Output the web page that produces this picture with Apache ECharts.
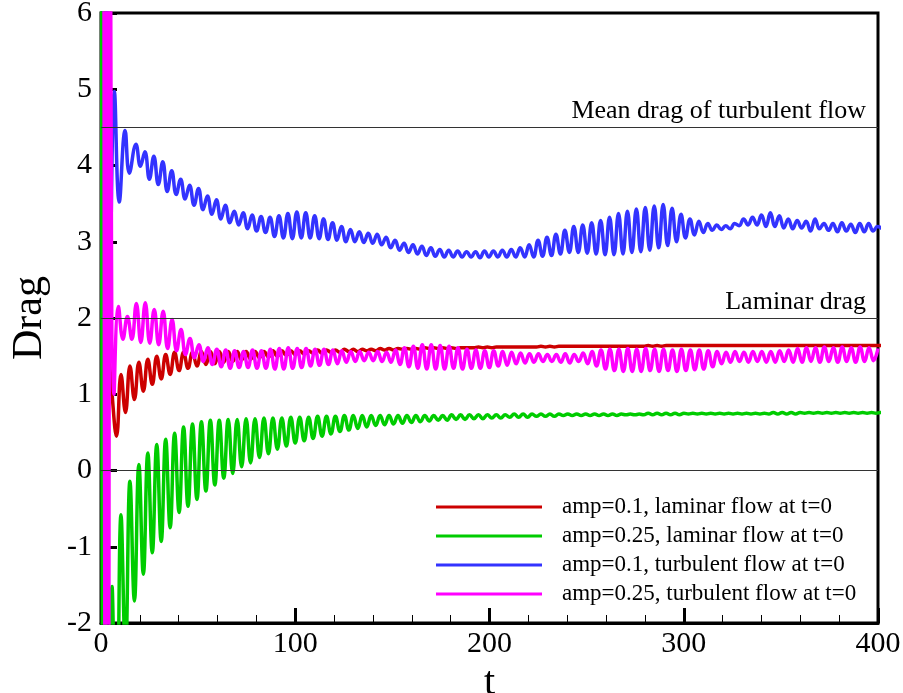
<!DOCTYPE html>
<html lang="en">
<head>
    <meta charset="UTF-8">
    <script type="text/javascript" src="https://cdn.jsdelivr.net/npm/echarts@6.0.0/dist/echarts.min.js"></script>
    <title>Drag</title>
    <style>
        body { margin: 0; background: #fff; }
        #chart { width: 903px; height: 693px; }
    </style>
</head>
<body>
    <div id="chart"></div>
</body>
</html>
<script>
    // half period of the forcing, samples are taken at peaks and troughs
    var halfPeriod = 2.3;

    var legendNames = ['amp=0.1, laminar flow at t=0', 'amp=0.25, laminar flow at t=0',
        'amp=0.1, turbulent flow at t=0', 'amp=0.25, turbulent flow at t=0'];

    // start-up transients [t, drag]
    var redHead = [[1.2, 3.5], [3.4, 1.8]];
    var greenHead = [[0.3, 8], [0.9, -8], [1.5, 8], [3.4, -8]];
    var blueHead = [[2.6, 8], [4.6, 2.45], [6.9, 4.97], [9.4, 3.52], [12.4, 4.46], [14.6, 3.9], [18.0, 4.28]];
    var magentaHead = [[1.5, 8], [2.3, -8], [3.1, 8], [3.9, -8], [4.7, 8]];

    // time of the first peak/trough sample after the transient
    var redStart = 5.7, greenStart = 5.7, blueStart = 20.3, magentaStart = 6.7;

    var redDrag = [
        1.0, 0.45, 1.26, 0.76, 1.37, 0.93, 1.42, 1.04, 1.46, 1.13,
        1.5, 1.2, 1.52, 1.26, 1.55, 1.31, 1.55, 1.34, 1.55, 1.37,
        1.56, 1.39, 1.56, 1.4, 1.56, 1.42, 1.56, 1.43, 1.56, 1.45,
        1.56, 1.46, 1.56, 1.48, 1.56, 1.49, 1.57, 1.5, 1.57, 1.51,
        1.57, 1.52, 1.57, 1.53, 1.57, 1.54, 1.58, 1.54, 1.58, 1.55,
        1.58, 1.55, 1.59, 1.56, 1.59, 1.56, 1.59, 1.57, 1.59, 1.57,
        1.6, 1.58, 1.6, 1.58, 1.6, 1.59, 1.6, 1.59, 1.6, 1.59,
        1.61, 1.6, 1.61, 1.6, 1.61, 1.6, 1.61, 1.6, 1.61, 1.61,
        1.61, 1.61, 1.62, 1.61, 1.62, 1.61, 1.62, 1.62, 1.62, 1.62,
        1.62, 1.62, 1.62, 1.62, 1.62, 1.62, 1.63, 1.62, 1.63, 1.62,
        1.63, 1.63, 1.63, 1.63, 1.63, 1.63, 1.63, 1.63, 1.63, 1.63,
        1.63, 1.63, 1.63, 1.63, 1.63, 1.63, 1.63, 1.63, 1.63, 1.63,
        1.64, 1.63, 1.64, 1.63, 1.64, 1.64, 1.64, 1.64, 1.64, 1.64,
        1.64, 1.64, 1.64, 1.64, 1.64, 1.64, 1.64, 1.64, 1.64, 1.64,
        1.64, 1.64, 1.64, 1.64, 1.64, 1.64, 1.64, 1.64, 1.64, 1.64,
        1.64, 1.64, 1.64, 1.64, 1.64, 1.64, 1.64, 1.64, 1.64, 1.64,
        1.64, 1.64, 1.64, 1.64, 1.64, 1.64, 1.64, 1.64, 1.64, 1.64,
        1.64, 1.64, 1.64, 1.64
    ];

    var greenDrag = [
        -1.52, -4, -0.58, -2.4, -0.14, -1.71, 0.08, -1.36, 0.23, -1.08,
        0.34, -0.93, 0.41, -0.75, 0.49, -0.55, 0.57, -0.47, 0.61, -0.38,
        0.64, -0.27, 0.66, -0.19, 0.66, -0.1, 0.67, -0.04, 0.67, 0.05,
        0.68, 0.1, 0.68, 0.17, 0.69, 0.22, 0.69, 0.28, 0.69, 0.32,
        0.7, 0.36, 0.7, 0.39, 0.7, 0.42, 0.71, 0.45, 0.71, 0.48,
        0.71, 0.51, 0.72, 0.53, 0.72, 0.55, 0.72, 0.57, 0.72, 0.59,
        0.72, 0.6, 0.72, 0.61, 0.72, 0.62, 0.72, 0.63, 0.72, 0.64,
        0.72, 0.65, 0.72, 0.66, 0.72, 0.66, 0.73, 0.67, 0.73, 0.67,
        0.73, 0.68, 0.73, 0.68, 0.73, 0.69, 0.73, 0.69, 0.73, 0.7,
        0.74, 0.7, 0.74, 0.7, 0.74, 0.71, 0.74, 0.71, 0.74, 0.71,
        0.74, 0.72, 0.74, 0.72, 0.74, 0.72, 0.74, 0.72, 0.74, 0.72,
        0.74, 0.72, 0.74, 0.72, 0.74, 0.73, 0.74, 0.73, 0.74, 0.73,
        0.75, 0.73, 0.75, 0.73, 0.75, 0.73, 0.75, 0.73, 0.75, 0.74,
        0.75, 0.74, 0.75, 0.74, 0.75, 0.74, 0.75, 0.74, 0.75, 0.74,
        0.75, 0.74, 0.75, 0.74, 0.75, 0.74, 0.75, 0.74, 0.76, 0.74,
        0.76, 0.74, 0.76, 0.74, 0.76, 0.75, 0.76, 0.75, 0.76, 0.75,
        0.76, 0.75, 0.76, 0.75, 0.76, 0.75, 0.76, 0.75, 0.76, 0.75,
        0.76, 0.75, 0.76, 0.75
    ];

    var blueDrag = [
        3.99, 4.18, 3.82, 4.12, 3.75, 4.05, 3.66, 3.93, 3.62, 3.82,
        3.56, 3.74, 3.48, 3.7, 3.42, 3.6, 3.36, 3.55, 3.3, 3.48,
        3.25, 3.4, 3.22, 3.38, 3.17, 3.35, 3.14, 3.33, 3.12, 3.32,
        3.07, 3.34, 3.05, 3.37, 3.04, 3.39, 3.05, 3.38, 3.05, 3.34,
        3.04, 3.3, 3.03, 3.25, 3.02, 3.2, 3.0, 3.16, 3.0, 3.13,
        2.99, 3.11, 2.98, 3.1, 2.96, 3.06, 2.92, 3.02, 2.89, 2.98,
        2.86, 2.96, 2.84, 2.94, 2.82, 2.92, 2.81, 2.9, 2.8, 2.89,
        2.8, 2.88, 2.8, 2.87, 2.8, 2.87, 2.79, 2.88, 2.8, 2.88,
        2.8, 2.89, 2.8, 2.9, 2.8, 2.92, 2.8, 2.96, 2.8, 3.02,
        2.81, 3.06, 2.82, 3.1, 2.84, 3.15, 2.86, 3.2, 2.86, 3.22,
        2.85, 3.25, 2.84, 3.28, 2.83, 3.32, 2.83, 3.37, 2.84, 3.4,
        2.86, 3.43, 2.87, 3.45, 2.89, 3.47, 2.92, 3.49, 2.95, 3.44,
        3.0, 3.36, 3.05, 3.3, 3.09, 3.27, 3.12, 3.24, 3.15, 3.22,
        3.16, 3.21, 3.17, 3.24, 3.21, 3.3, 3.22, 3.32, 3.22, 3.35,
        3.2, 3.38, 3.2, 3.34, 3.18, 3.3, 3.17, 3.28, 3.18, 3.27,
        3.14, 3.3, 3.17, 3.24, 3.15, 3.24, 3.13, 3.25, 3.14, 3.23,
        3.12, 3.24, 3.13, 3.24, 3.14, 3.2, 3.17
    ];

    var magentaDrag = [
        1.0, 2.15, 1.72, 2.02, 1.72, 2.19, 1.68, 2.2, 1.67, 2.11,
        1.65, 2.09, 1.6, 1.98, 1.57, 1.85, 1.52, 1.73, 1.48, 1.65,
        1.43, 1.61, 1.39, 1.59, 1.36, 1.58, 1.34, 1.57, 1.35, 1.56,
        1.35, 1.58, 1.34, 1.57, 1.34, 1.59, 1.33, 1.6, 1.33, 1.61,
        1.34, 1.6, 1.35, 1.6, 1.37, 1.59, 1.38, 1.59, 1.39, 1.58,
        1.4, 1.57, 1.42, 1.56, 1.43, 1.56, 1.44, 1.55, 1.44, 1.56,
        1.43, 1.55, 1.42, 1.58, 1.39, 1.61, 1.36, 1.63, 1.34, 1.65,
        1.33, 1.65, 1.33, 1.64, 1.33, 1.63, 1.34, 1.61, 1.33, 1.59,
        1.34, 1.58, 1.34, 1.57, 1.35, 1.57, 1.37, 1.56, 1.38, 1.55,
        1.4, 1.54, 1.41, 1.53, 1.42, 1.53, 1.43, 1.52, 1.43, 1.52,
        1.42, 1.53, 1.41, 1.52, 1.43, 1.54, 1.4, 1.56, 1.37, 1.58,
        1.33, 1.59, 1.31, 1.59, 1.3, 1.6, 1.3, 1.59, 1.3, 1.6,
        1.31, 1.59, 1.3, 1.59, 1.31, 1.58, 1.3, 1.59, 1.31, 1.58,
        1.32, 1.58, 1.33, 1.57, 1.36, 1.56, 1.4, 1.55, 1.42, 1.56,
        1.43, 1.55, 1.42, 1.56, 1.43, 1.56, 1.42, 1.56, 1.42, 1.57,
        1.43, 1.58, 1.42, 1.6, 1.42, 1.61, 1.43, 1.61, 1.42, 1.62,
        1.43, 1.61, 1.42, 1.62, 1.43, 1.61, 1.42, 1.62, 1.43, 1.61,
        1.44, 1.6
    ];

    // reference levels
    var meanTurbulentDrag = 4.5;
    var laminarDrag = 2;

    function toPoints(head, start, values) {
        var pts = head.slice();
        for (var i = 0; i < values.length; i++) {
            pts.push([+(start + i * halfPeriod).toFixed(2), values[i]]);
        }
        return pts;
    }

    var serif = 'Liberation Serif';

    function dragSeries(name, color, pts) {
        return {
            name: name,
            type: 'line',
            data: pts,
            z: 3,
            smooth: 0.45,
            symbol: 'none',
            showSymbol: false,
            clip: true,
            lineStyle: { color: color, width: 3.5 },
            itemStyle: { color: color }
        };
    }

    var myChart = echarts.init(document.getElementById('chart'));
    myChart.setOption({
        animation: false,
        backgroundColor: '#fff',
        grid: {
            left: 101, top: 13, width: 777, height: 610,
            containLabel: false, outerBoundsMode: 'none',
            show: true, borderColor: '#000', borderWidth: 3
        },
        legend: {
            orient: 'vertical',
            left: 431, top: 490,
            icon: 'rect',
            itemWidth: 106, itemHeight: 3, itemGap: 5,
            textStyle: { fontFamily: serif, fontSize: 23, color: '#000', lineHeight: 24, padding: [0, 0, 0, 15] },
            data: legendNames
        },
        xAxis: {
            type: 'value', min: 0, max: 400, interval: 100,
            name: 't', nameLocation: 'middle', nameGap: 31,
            nameTextStyle: { fontFamily: serif, fontSize: 40, color: '#000' },
            axisLine: { onZero: false, lineStyle: { color: '#000', width: 3 } },
            axisTick: { inside: true, length: 15, lineStyle: { color: '#000', width: 3 } },
            minorTick: { show: true, splitNumber: 5, length: 8, lineStyle: { color: '#000', width: 1 } },
            splitLine: { show: false },
            axisLabel: { fontFamily: serif, fontSize: 30, color: '#000', margin: 6 }
        },
        yAxis: {
            type: 'value', min: -2, max: 6, interval: 1,
            name: 'Drag', nameLocation: 'middle', nameGap: 50, nameRotate: 90,
            nameTextStyle: { fontFamily: serif, fontSize: 42, color: '#000' },
            axisLine: { onZero: false, lineStyle: { color: '#000', width: 3 } },
            axisTick: { inside: true, length: 16, lineStyle: { color: '#000', width: 3 } },
            minorTick: { show: true, splitNumber: 5, length: 9, lineStyle: { color: '#000', width: 1 } },
            splitLine: { show: false },
            axisLabel: { fontFamily: serif, fontSize: 30, color: '#000', margin: 9 }
        },
        series: [
            {
                name: 'refs', type: 'line', data: [], z: 1, silent: true,
                markLine: {
                    symbol: 'none', silent: true,
                    lineStyle: { color: '#333', width: 1.2, type: 'solid' },
                    label: { fontFamily: serif, fontSize: 26, color: '#000', position: 'insideEndTop', distance: [12, 3] },
                    data: [
                        { yAxis: meanTurbulentDrag, label: { formatter: 'Mean drag of turbulent flow' } },
                        { yAxis: laminarDrag, label: { formatter: 'Laminar drag' } },
                        { yAxis: 0, label: { show: false } }
                    ]
                }
            },
            dragSeries(legendNames[0], '#cc0000', toPoints(redHead, redStart, redDrag)),
            dragSeries(legendNames[1], '#00cc00', toPoints(greenHead, greenStart, greenDrag)),
            dragSeries(legendNames[2], '#3333ff', toPoints(blueHead, blueStart, blueDrag)),
            dragSeries(legendNames[3], '#ff00ff', toPoints(magentaHead, magentaStart, magentaDrag))
        ]
    });
</script>
